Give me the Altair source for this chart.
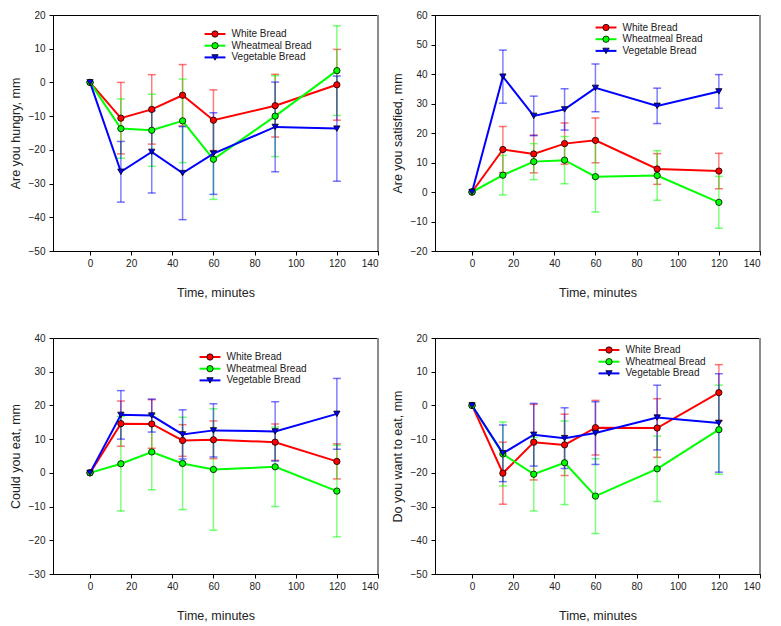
import altair as alt
import pandas as pd

FONT = "Liberation Sans"
TIMES = [0, 15, 30, 45, 60, 90, 120]
BREADS = ["White Bread", "Wheatmeal Bread", "Vegetable Bread"]
COLORS = ["#ff0000", "#00ff00", "#0000ff"]
SHAPES = ["circle", "circle", "triangle-down"]
X_TICKS = [0, 20, 40, 60, 80, 100, 120, 140]
X_DOMAIN = [-18, 140]

# Panel 1: Are you hungry
hungry_white = [0, -10.6, -8.0, -3.8, -11.2, -6.9, -0.7]
hungry_white_err = [0, 10.6, 10.3, 9.1, 9.0, 9.3, 10.5]
hungry_wheat = [0, -13.7, -14.2, -11.4, -22.8, -10.0, 3.5]
hungry_wheat_err = [0, 8.8, 10.7, 12.4, 11.9, 12.0, 13.3]
hungry_veg = [0, -26.5, -20.6, -26.9, -21.1, -13.2, -13.7]
hungry_veg_err = [0, 9.0, 12.2, 13.8, 12.1, 13.3, 15.6]

# Panel 2: Are you satisfied
sat_white = [0, 14.4, 12.9, 16.4, 17.5, 7.8, 7.1]
sat_white_err = [0, 7.8, 6.4, 7.0, 7.6, 5.2, 6.0]
sat_wheat = [0, 5.7, 10.3, 10.8, 5.2, 5.6, -3.5]
sat_wheat_err = [0, 6.7, 6.1, 8.0, 12.0, 8.4, 8.8]
sat_veg = [0, 39.1, 25.8, 28.0, 35.3, 29.2, 34.1]
sat_veg_err = [0, 9.0, 6.7, 7.0, 8.1, 6.0, 5.7]

# Panel 3: Could you eat
eat_white = [0, 14.6, 14.5, 9.6, 9.8, 9.1, 3.4]
eat_white_err = [0, 6.7, 7.2, 4.7, 5.6, 5.4, 5.2]
eat_wheat = [0, 2.7, 6.2, 2.8, 1.0, 1.8, -5.4]
eat_wheat_err = [0, 14.0, 11.2, 13.7, 18.0, 11.8, 13.6]
eat_veg = [0, 17.2, 17.0, 11.4, 12.6, 12.3, 17.5]
eat_veg_err = [0, 7.2, 4.9, 7.3, 7.9, 8.8, 10.5]

# Panel 4: Do you want to eat
want_white = [0, -20.1, -10.9, -11.7, -6.6, -6.7, 3.8]
want_white_err = [0, 9.2, 11.2, 9.1, 8.1, 8.7, 8.3]
want_wheat = [0, -14.4, -20.4, -17.0, -26.9, -18.8, -7.2]
want_wheat_err = [0, 9.5, 10.9, 12.4, 11.1, 9.7, 13.2]
want_veg = [0, -14.2, -8.7, -9.7, -8.2, -3.6, -5.2]
want_veg_err = [0, 8.4, 9.3, 9.0, 9.3, 9.6, 14.6]

W, H = 325, 236

# legend marker colour per entry, built from the series colours
FILL_EXPR = " : ".join(
    f"datum.value === '{b}' ? '{c}'" for b, c in zip(BREADS[:-1], COLORS[:-1])
) + f" : '{COLORS[-1]}'"


def panel(means, errs, ytitle, ydomain, legend_xy):
    rows = []
    for b, m, e in zip(BREADS, means, errs):
        for t, mv, ev in zip(TIMES, m, e):
            rows.append(dict(time=t, bread=b, mean=mv, lo=mv - ev, hi=mv + ev, err=ev))
    df = pd.DataFrame(rows)
    base = alt.Chart(df)

    x = alt.X("time:Q",
              scale=alt.Scale(domain=X_DOMAIN, nice=False, zero=False),
              axis=alt.Axis(values=X_TICKS, title="Time, minutes", labelPadding=3,
                            titlePadding=18))
    yaxis = alt.Axis(values=list(range(ydomain[0], ydomain[1] + 1, 10)), title=ytitle,
                     minExtent=26, maxExtent=26, titlePadding=5, labelPadding=4)
    yscale = alt.Scale(domain=ydomain, nice=False, zero=False)

    def y(field):
        return alt.Y(field + ":Q", scale=yscale, axis=yaxis)

    lx, ly = legend_xy

    layers = []
    for b, c in zip(BREADS, COLORS):
        eb = base.transform_filter(alt.datum.bread == b).transform_filter("datum.err > 0")
        layers.append(eb.mark_rule(strokeWidth=1.5, opacity=0.5, color=c).encode(
            x=x, y=y("lo"), y2="hi:Q"))
        layers.append(eb.mark_tick(orient="horizontal", size=8, thickness=1.5,
                                   opacity=0.55, color=c).encode(x=x, y=y("hi")))
        layers.append(eb.mark_tick(orient="horizontal", size=8, thickness=1.5,
                                   opacity=0.55, color=c).encode(x=x, y=y("lo")))

    legA = alt.Legend(title=None, orient="none", legendX=lx, legendY=ly,
                      symbolType="M-3.3,0H3.3", symbolSize=40, symbolStrokeWidth=2,
                      labelFont=FONT, labelFontSize=10, labelColor="#222",
                      labelOffset=11.5, rowPadding=1.7, padding=0)
    legB = alt.Legend(title=None, orient="none", legendX=lx, legendY=ly,
                      symbolSize=40, symbolStrokeWidth=0.8, symbolStrokeColor="black",
                      symbolFillColor=alt.ExprRef(expr=FILL_EXPR), symbolOpacity=1,
                      labelFont=FONT, labelFontSize=10, labelOpacity=0,
                      labelOffset=11.5, rowPadding=1.7, padding=0)

    line = base.mark_line(strokeWidth=2).encode(
        x=x, y=y("mean"),
        color=alt.Color("bread:N", scale=alt.Scale(domain=BREADS, range=COLORS), legend=legA))
    pts = base.mark_point(filled=True, size=40, stroke="black", strokeWidth=0.8, opacity=1).encode(
        x=x, y=y("mean"),
        fill=alt.Fill("bread:N", sort=BREADS, scale=alt.Scale(range=COLORS), legend=None),
        shape=alt.Shape("bread:N", sort=BREADS, scale=alt.Scale(range=SHAPES), legend=legB))
    right = alt.Chart(df).mark_rule(color="#8c8c8c", strokeWidth=2).encode(
        x=alt.datum(X_DOMAIN[1]))

    layers += [line, pts, right]
    return alt.layer(*layers).properties(width=W, height=H)


p1 = panel([hungry_white, hungry_wheat, hungry_veg],
           [hungry_white_err, hungry_wheat_err, hungry_veg_err],
           "Are you hungry, mm", [-50, 20], (157, 14))
p2 = panel([sat_white, sat_wheat, sat_veg],
           [sat_white_err, sat_wheat_err, sat_veg_err],
           "Are you satisfied, mm", [-20, 60], (166, 7.5))
p3 = panel([eat_white, eat_wheat, eat_veg],
           [eat_white_err, eat_wheat_err, eat_veg_err],
           "Could you eat, mm", [-30, 40], (152, 14))
p4 = panel([want_white, want_wheat, want_veg],
           [want_white_err, want_wheat_err, want_veg_err],
           "Do you want to eat, mm", [-50, 20], (169, 7))

chart = alt.concat(p1, p2, p3, p4, columns=2, spacing={"row": 87, "column": 57},
                   bounds="flush").resolve_scale(
    color="independent", fill="independent", shape="independent"
).resolve_legend(
    color="independent", fill="independent", shape="independent"
).properties(
    padding={"left": 0, "top": 1, "right": 0, "bottom": 0}
).configure_view(stroke="black", strokeWidth=1).configure_axis(
    grid=False, domainColor="black", domainWidth=1, tickColor="black", tickSize=4,
    labelFont=FONT, labelFontSize=10, labelColor="#222",
    titleFont=FONT, titleFontSize=12.5, titleFontWeight="normal", titleColor="#222"
)

chart.save("out.html", embed_options={"renderer": "svg", "actions": False})
